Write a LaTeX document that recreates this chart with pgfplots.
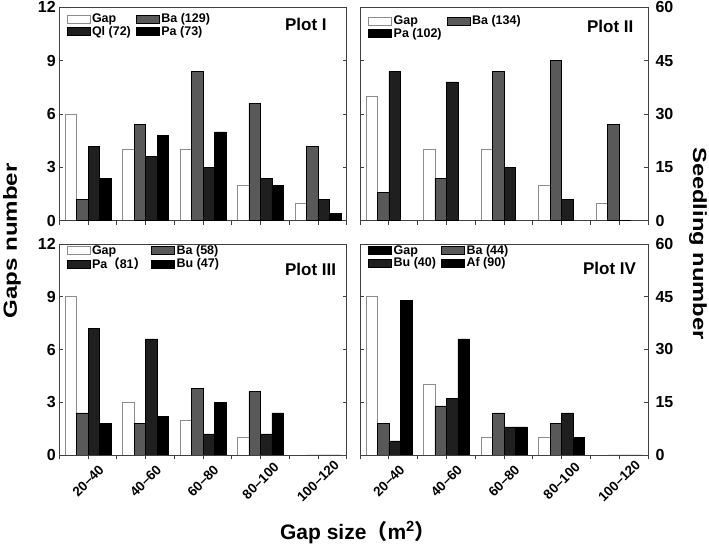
\documentclass[border=0pt]{standalone}
\usepackage{fontspec}
\setmainfont{Liberation Sans}
\newfontfamily\cjk{Noto Sans CJK SC}
\usepackage{graphicx}
\usepackage{pgfplots}
\pgfplotsset{compat=1.18}

\definecolor{gapedge}{gray}{0.55}
\definecolor{bagray}{gray}{0.35}
\definecolor{darkbar}{gray}{0.12}
\definecolor{framec}{gray}{0.25}

\newcommand{\legfont}{\bfseries\fontsize{12.5}{14}\selectfont}

\pgfplotsset{
  mylegend/.style={legend image code/.code={\draw[##1,line width=0.5pt] (0pt,-4pt) rectangle (23pt,4pt);}},
  panel/.style={scale only axis, anchor=south west, xmin=-0.5, xmax=4.5,
    axis line style={framec, line width=0.8pt},
    every tick/.style={framec, line width=0.8pt},
    major tick length=4pt, minor tick length=4pt,
    /pgf/number format/assume math mode=true,
    yticklabel style={font=\bfseries\fontsize{16}{16}\selectfont},
    xticklabel style={font=\bfseries\fontsize{13.5}{13.5}\selectfont, anchor=center, yshift=-22pt, rotate=45}},
  gapaxis/.style={panel, ymin=0, ymax=12, ytick={0,3,6,9,12}, ytick pos=both, tick align=inside, xtick=\empty},
  seedaxis/.style={panel, ymin=0, ymax=60, ytick={0,15,30,45,60}, ytick style={draw=none},
    xtick={0,1,2,3,4}, minor xtick={-0.5,0.5,1.5,2.5,3.5,4.5}, xtick pos=bottom, tick align=outside,
    legend style={at={(0,1)}, anchor=north west, draw=none, fill=none, inner sep=0pt,
      font=\legfont, legend columns=2, legend cell align=left,
      /tikz/every even column/.append style={column sep=3pt}, nodes={inner ysep=1pt, inner xsep=2pt, font=\legfont}}},
  gapbar/.style={ybar, bar width=0.2, bar shift=-0.3, fill=white, draw=gapedge, line width=0.5pt},
  sA/.style={ybar, bar width=0.2, bar shift=-0.1, fill=bagray, draw=black, line width=0.5pt, mylegend},
  sB/.style={ybar, bar width=0.2, bar shift=0.1, fill=darkbar, draw=black, line width=0.5pt, mylegend},
  sC/.style={ybar, bar width=0.2, bar shift=0.3, fill=black, draw=black, line width=0.5pt, mylegend},
}

\begin{document}
\begin{tikzpicture}
\path[use as bounding box] (0,0) rectangle (709pt,546pt);

% ---------- Plot I ----------
\begin{axis}[gapaxis, at={(59.3pt,325.3pt)}, width=287.4pt, height=213.4pt]
\addplot[gapbar] coordinates {(0,6) (1,4) (2,4) (3,2) (4,1)};
\end{axis}
\begin{axis}[seedaxis, at={(59.3pt,325.3pt)}, width=287.4pt, height=213.4pt, ytick=\empty, xticklabels={},
  legend style={xshift=7pt, yshift=-5pt}]
\addlegendimage{mylegend, fill=white, draw=gapedge}
\addlegendentry{Gap}
\addplot[sA] coordinates {(0,6) (1,27) (2,42) (3,33) (4,21)};
\addlegendentry{Ba (129)}
\addplot[sB] coordinates {(0,21) (1,18) (2,15) (3,12) (4,6)};
\addlegendentry{Ql (72)}
\addplot[sC] coordinates {(0,12) (1,24) (2,25) (3,10) (4,2)};
\addlegendentry{Pa (73)}
\node[anchor=north west, inner sep=0pt, font=\bfseries\fontsize{17}{17}\selectfont, yshift=-11pt] at (axis description cs:0.785,1) {Plot I};
\end{axis}

% ---------- Plot II ----------
\begin{axis}[gapaxis, at={(360pt,325.3pt)}, width=288pt, height=213.4pt, yticklabels={}]
\addplot[gapbar] coordinates {(0,7) (1,4) (2,4) (3,2) (4,1)};
\end{axis}
\begin{axis}[seedaxis, at={(360pt,325.3pt)}, width=288pt, height=213.4pt, ytick pos=right, yticklabel pos=right, xticklabels={},
  legend style={xshift=8pt, yshift=-7pt}]
\addlegendimage{mylegend, fill=white, draw=gapedge}
\addlegendentry{Gap}
\addplot[sA] coordinates {(0,8) (1,12) (2,42) (3,45) (4,27)};
\addlegendentry{Ba (134)}
\addplot[sB, legend image post style={fill=black}] coordinates {(0,42) (1,39) (2,15) (3,6) (4,0)};
\addlegendentry{Pa (102)}
\node[anchor=north west, inner sep=0pt, font=\bfseries\fontsize{17}{17}\selectfont, yshift=-13pt] at (axis description cs:0.788,1) {Plot II};
\end{axis}

% ---------- Plot III ----------
\begin{axis}[gapaxis, at={(59.3pt,91pt)}, width=287.4pt, height=211pt]
\addplot[gapbar] coordinates {(0,9) (1,3) (2,2) (3,1) (4,0)};
\end{axis}
\begin{axis}[seedaxis, at={(59.3pt,91pt)}, width=287.4pt, height=211pt, ytick=\empty,
  xticklabels={20–40,40–60,60–80,80–100,100–120},
  legend style={xshift=7pt, yshift=0pt}]
\addlegendimage{mylegend, fill=white, draw=gapedge}
\addlegendentry{Gap}
\addplot[sA] coordinates {(0,12) (1,9) (2,19) (3,18) (4,0)};
\addlegendentry{Ba (58)}
\addplot[sB] coordinates {(0,36) (1,33) (2,6) (3,6) (4,0)};
\addlegendentry{Pa{\cjk （}81{\cjk ）}}
\addplot[sC] coordinates {(0,9) (1,11) (2,15) (3,12) (4,0)};
\addlegendentry{Bu (47)}
\node[anchor=north west, inner sep=0pt, font=\bfseries\fontsize{17}{17}\selectfont, yshift=-19pt] at (axis description cs:0.785,1) {Plot III};
\end{axis}

% ---------- Plot IV ----------
\begin{axis}[gapaxis, at={(360pt,91pt)}, width=288pt, height=211pt, yticklabels={}]
\addplot[gapbar] coordinates {(0,9) (1,4) (2,1) (3,1) (4,0)};
\end{axis}
\begin{axis}[seedaxis, at={(360pt,91pt)}, width=288pt, height=211pt, ytick pos=right, yticklabel pos=right,
  xticklabels={20–40,40–60,60–80,80–100,100–120},
  legend style={xshift=8pt, yshift=0pt}]
\addlegendimage{mylegend, fill=black, draw=black}
\addlegendentry{Gap}
\addplot[sA] coordinates {(0,9) (1,14) (2,12) (3,9) (4,0)};
\addlegendentry{Ba (44)}
\addplot[sB] coordinates {(0,4) (1,16) (2,8) (3,12) (4,0)};
\addlegendentry{Bu (40)}
\addplot[sC] coordinates {(0,44) (1,33) (2,8) (3,5) (4,0)};
\addlegendentry{Af (90)}
\node[anchor=north west, inner sep=0pt, font=\bfseries\fontsize{17}{17}\selectfont, yshift=-18pt] at (axis description cs:0.774,1) {Plot IV};
\end{axis}

% ---------- outer labels ----------
\node[rotate=90, anchor=center, inner sep=0pt, font=\bfseries\fontsize{19}{19}\selectfont] at (12pt,305pt) {\scalebox{1.27}[1]{Gaps number}};
\node[rotate=-90, anchor=center, inner sep=0pt, font=\bfseries\fontsize{19}{19}\selectfont] at (698pt,302.5pt) {\scalebox{1.25}[1]{Seedling number}};
\node[anchor=base, inner sep=0pt, font=\bfseries\fontsize{21}{21}\selectfont] at (358pt,7pt) {Gap size{\cjk （}m\textsuperscript{2}{\cjk ）}};
\end{tikzpicture}
\end{document}
